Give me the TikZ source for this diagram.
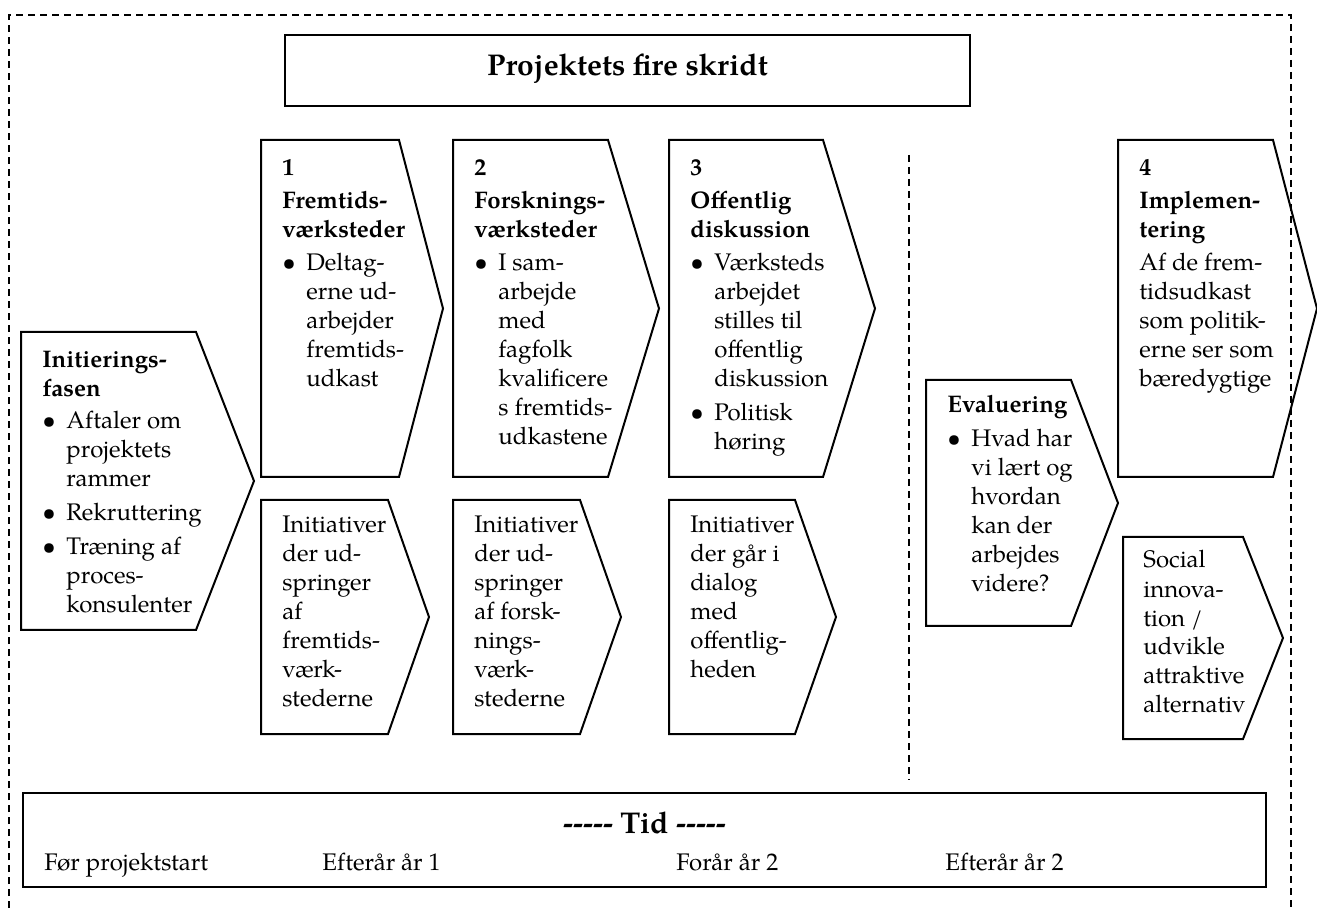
\documentclass[tikz,border=0pt]{standalone}
\usepackage{fontspec}
\setmainfont{texgyrepagella}[Extension=.otf,UprightFont=*-regular,BoldFont=*-bold,ItalicFont=*-italic,BoldItalicFont=*-bolditalic]
\usepackage{tikz}

\newcommand{\brod}{\fontsize{12}{14.5}\selectfont}
\newcommand{\bul}{\makebox[12pt][l]{\textbullet}}
\newcommand{\ind}{\hspace*{12pt}}
\newcommand{\linjer}[1]{\begin{tabular}[t]{@{}l@{}}#1\end{tabular}}

\begin{document}
\begin{tikzpicture}[x=0.5pt,y=-0.5pt,
  boks/.style={draw,line width=1pt,line join=miter},
  stiplet/.style={draw,line width=0.75pt,dash pattern=on 3.5pt off 2.5pt},
  tekst/.style={anchor=base west,inner sep=0pt,font=\brod},
  overskrift/.style={anchor=base,inner sep=0pt,font=\fontsize{15}{18}\selectfont\bfseries}]
\useasboundingbox (0,0) rectangle (1317,908);

% ramme og skillelinje
\draw[stiplet] (9,908) -- (9,15) -- (1291,15) -- (1291,908);
\draw[stiplet] (909,155) -- (909,780);

% overskrift
\draw[boks] (285,35) rectangle (970,106);
\node[overskrift] (titel) at (627.5,76) {Projektets fire skridt};

% pile
\draw[boks] (21,332) -- (196,332) -- (254,481) -- (196,630) -- (21,630) -- cycle;
\draw[boks] (261,140) -- (399,140) -- (443,308.5) -- (399,477) -- (261,477) -- cycle;
\draw[boks] (453,140) -- (608,140) -- (659,308.5) -- (608,477) -- (453,477) -- cycle;
\draw[boks] (669,140) -- (823,140) -- (875,308.5) -- (823,477) -- (669,477) -- cycle;
\draw[boks] (1118,140) -- (1273,140) -- (1317,308.5) -- (1273,477) -- (1118,477) -- cycle;
\draw[boks] (261,500) -- (388,500) -- (429,617) -- (388,734) -- (261,734) -- cycle;
\draw[boks] (453,500) -- (580,500) -- (621,617) -- (580,734) -- (453,734) -- cycle;
\draw[boks] (669,500) -- (795,500) -- (836,617) -- (795,734) -- (669,734) -- cycle;
\draw[boks] (926,380) -- (1071,380) -- (1118,503) -- (1071,626) -- (926,626) -- cycle;
\draw[boks] (1123,537) -- (1243,537) -- (1283,638) -- (1243,739) -- (1123,739) -- cycle;

% tekst i pilene
\node[tekst] (init) at (42,368) {\linjer{\textbf{Initierings-}\\ \textbf{fasen}\\[1.5pt]
  \bul Aftaler om\\ \ind projektets\\ \ind rammer\\[2.5pt]
  \bul Rekruttering\\[2.5pt]
  \bul Træning af\\ \ind proces-\\ \ind konsulenter}};
\node[tekst] (trin1) at (282,176) {\linjer{\textbf{1}\\[2pt] \textbf{Fremtids-}\\ \textbf{værksteder}\\[2pt]
  \bul Deltag-\\ \ind erne ud-\\ \ind arbejder\\ \ind fremtids-\\ \ind udkast}};
\node[tekst] (trin2) at (474,176) {\linjer{\textbf{2}\\[2pt] \textbf{Forsknings-}\\ \textbf{værksteder}\\[2pt]
  \bul I sam-\\ \ind arbejde\\ \ind med\\ \ind fagfolk\\ \ind kvalificere\\ \ind s fremtids-\\ \ind udkastene}};
\node[tekst] (trin3) at (690,176) {\linjer{\textbf{3}\\[2pt] \textbf{Offentlig}\\ \textbf{diskussion}\\[2pt]
  \bul Værksteds\\ \ind arbejdet\\ \ind stilles til\\ \ind offentlig\\ \ind diskussion\\[2.5pt]
  \bul Politisk\\ \ind høring}};
\node[tekst] (trin4) at (1139,176) {\linjer{\textbf{4}\\[2pt] \textbf{Implemen-}\\ \textbf{tering}\\[2pt]
  Af de frem-\\ tidsudkast\\ som politik-\\ erne ser som\\ bæredygtige}};
\node[tekst] (init1) at (282,533) {\linjer{Initiativer\\ der ud-\\ springer\\ af\\ fremtids-\\ værk-\\ stederne}};
\node[tekst] (init2) at (474,533) {\linjer{Initiativer\\ der ud-\\ springer\\ af forsk-\\ nings-\\ værk-\\ stederne}};
\node[tekst] (init3) at (690,533) {\linjer{Initiativer\\ der går i\\ dialog\\ med\\ offentlig-\\ heden}};
\node[tekst] (evaluering) at (947,413) {\linjer{\textbf{Evaluering}\\[2.5pt]
  \bul Hvad har\\ \ind vi lært og\\ \ind hvordan\\ \ind kan der\\ \ind arbejdes\\ \ind videre?}};
\node[tekst] (social) at (1143,568) {\linjer{Social\\ innova-\\ tion /\\ udvikle\\ attraktive\\ alternativ}};

% tidslinje
\draw[boks] (23,793) rectangle (1266,887);
\node[overskrift] (tid) at (644.5,833) {-{}-{}-{}-{}- Tid -{}-{}-{}-{}-};
\node[tekst] (foer) at (44,870) {Før projektstart};
\node[tekst] (efteraar1) at (322,870) {Efterår år 1};
\node[tekst] (foraar2) at (676,870) {Forår år 2};
\node[tekst] (efteraar2) at (945,870) {Efterår år 2};
\end{tikzpicture}
\end{document}
